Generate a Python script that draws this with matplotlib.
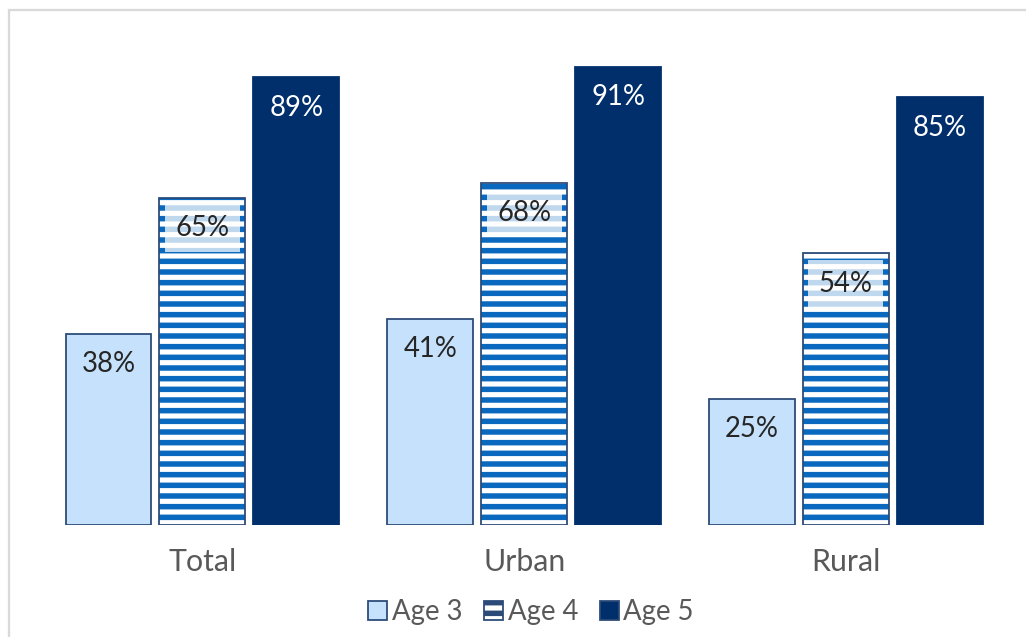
import matplotlib
matplotlib.use("Agg")
import matplotlib.pyplot as plt
from matplotlib.patches import Patch, Rectangle
import numpy as np

categories = ["Total", "Urban", "Rural"]
series_names = ["Age 3", "Age 4", "Age 5"]
age3 = [38, 41, 25]
age4 = [65, 68, 54]
age5 = [89, 91, 85]

DPI = 128
plt.rcParams['font.family'] = ['Lato', 'DejaVu Sans']
plt.rcParams['hatch.linewidth'] = 3.1
plt.rcParams['hatch.color'] = '#0A68BE'

fig = plt.figure(figsize=(1026 / DPI, 637 / DPI), dpi=DPI)
ax = fig.add_axes([0.0405, 0.1758, 0.9408, 0.792])

# light gray frame
fig.patches.append(Rectangle((9 / 1026, -0.1), 1.2, 1 - 10 / 637 + 0.1,
                             transform=fig.transFigure, fill=False,
                             edgecolor='#D9D9D9', linewidth=1.3, zorder=0))

x = np.arange(len(categories))
step = 0.292
width = 0.267
edge = '#2B4A78'
c3 = '#C5E1FB'
c5 = '#002F6C'

ax.bar(x - step, age3, width, color=c3, edgecolor=edge, linewidth=1.0)
ax.bar(x, age4, width, color='white', edgecolor='#0A68BE', hatch='--', linewidth=0)
ax.bar(x, age4, width, fill=False, edgecolor=edge, linewidth=1.0)
ax.bar(x + step, age5, width, color=c5, edgecolor=c5, linewidth=1.0)

fs = 15.5
txtc = '#262626'
for xi, v in zip(x, age3):
    ax.text(xi - step, v - 6, f"{v}%", ha='center', va='center', fontsize=fs, color=txtc)
for xi, v in zip(x, age4):
    ax.text(xi, v - 6, f"{v}%", ha='center', va='center', fontsize=fs, color=txtc,
            bbox=dict(boxstyle='square,pad=0.38', facecolor='white', alpha=0.75, edgecolor='none'))
for xi, v in zip(x, age5):
    ax.text(xi + step, v - 6, f"{v}%", ha='center', va='center', fontsize=fs, color='white')

for xi, c in zip(x, categories):
    ax.text(xi, -7.3, c, ha='center', va='center', fontsize=17, color='#595959', clip_on=False)

ax.set_xlim(-0.5, 2.5)
ax.set_ylim(0, 100.3)
ax.axis('off')

handles = [Patch(facecolor=c3, edgecolor=edge, linewidth=1.0),
           Patch(facecolor='white', edgecolor=edge, hatch='--', linewidth=1.0),
           Patch(facecolor=c5, edgecolor=edge, linewidth=1.0)]
leg = fig.legend(handles, series_names, loc='center', bbox_to_anchor=(531 / 1026, 1 - 612 / 637),
                 ncol=3, frameon=False, fontsize=15.5, handlelength=0.7, handleheight=0.7,
                 handletextpad=0.15, columnspacing=0.8, labelcolor='#595959')

fig.savefig("out.png", dpi=DPI)
